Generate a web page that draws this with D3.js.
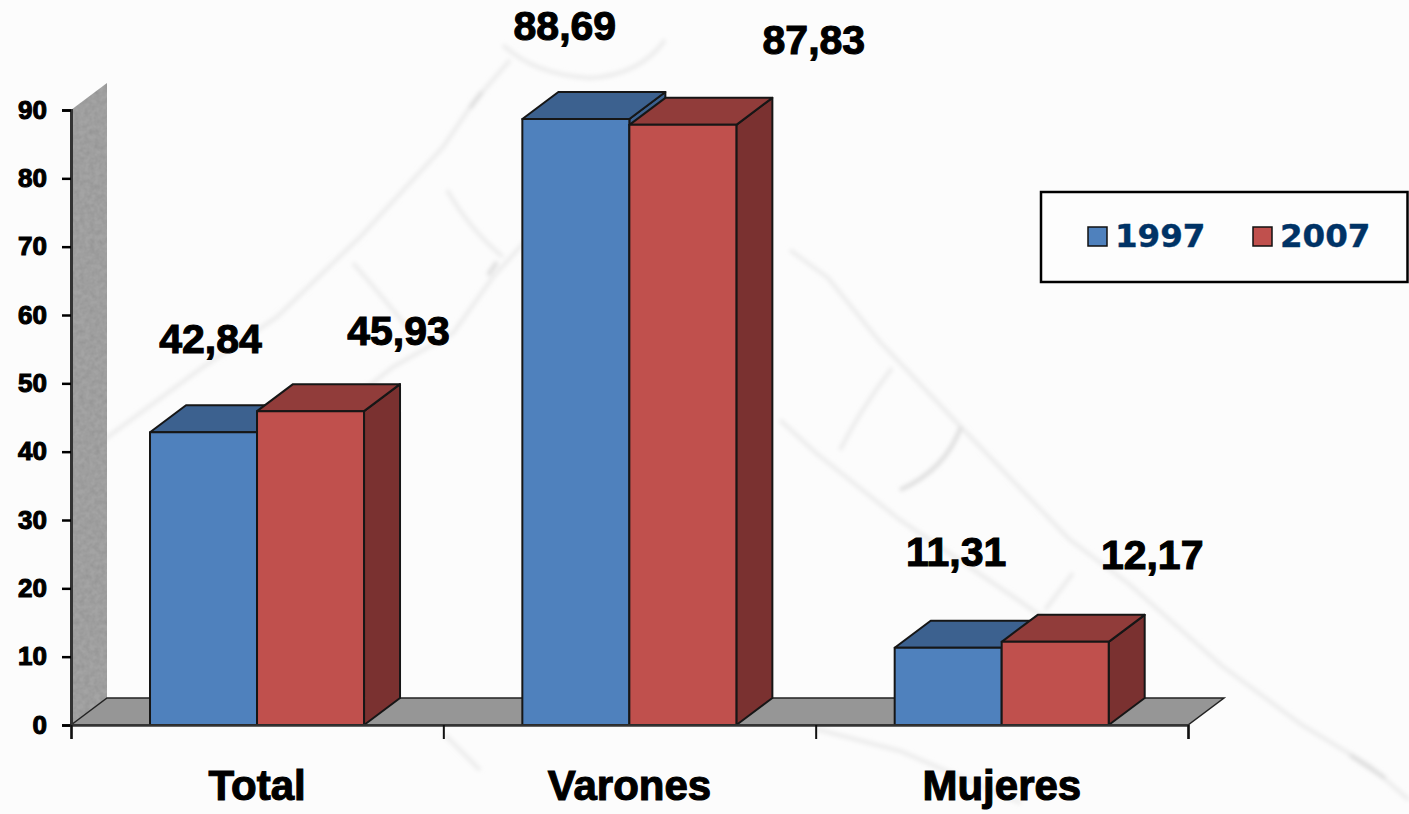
<!DOCTYPE html>
<html lang="es">
<head>
<meta charset="UTF-8" />
<title>Total, Varones, Mujeres 1997 - 2007</title>
<script src="https://d3js.org/d3.v7.min.js"></script>
<style>
  html, body { margin: 0; padding: 0; background: #fcfcfc; overflow: hidden; }
  svg { display: block; }
  text { font-family: "Liberation Sans", Arial, sans-serif; font-weight: bold; fill: #000; stroke: #000; stroke-width: 1.1px; }
  .legend-label { font-family: "DejaVu Sans", Verdana, sans-serif; fill: #003366; stroke: #003366; stroke-width: 0.4px; }
  .mark { stroke: #161616; stroke-width: 2; stroke-linejoin: round; }
</style>
</head>
<body>
<script>
var categories = ["Total", "Varones", "Mujeres"];
var years = ["1997", "2007"];
var values1997 = [42.84, 88.69, 11.31];
var values2007 = [45.93, 87.83, 12.17];
var yTicks = [0, 10, 20, 30, 40, 50, 60, 70, 80, 90];

var width = 1409, height = 814;
var plotLeft = 71, plotRight = 1188, plotBottom = 725, plotTop = 110;
var depthX = 36, depthY = -27;

// the labels were placed by hand in the original, so offsets from each bar centre
var labelOffsets = {
  "1997": [[7, -79], [-11, -79], [8, -82]],
  "2007": [[88, -66], [131, -71], [97, -73]]
};

var colors = {
  "1997": { front: "#4f81bd", top: "#3c618f", side: "#3c618f" },
  "2007": { front: "#c0504d", top: "#913c3a", side: "#7a3130" }
};

var x = d3.scaleBand().domain(categories).range([plotLeft, plotRight]);
var xInner = d3.scaleBand().domain(years).range([x.bandwidth() * 0.2122, x.bandwidth() * 0.787]);
var y = d3.scaleLinear().domain([0, 90]).range([plotBottom, plotTop]);
var xEdges = d3.scaleLinear().domain([0, 3]).range([plotLeft, plotRight]);

var svg = d3.select("body").append("svg").attr("width", width).attr("height", height);

var defs = svg.append("defs");
defs.append("filter").attr("id", "soft").attr("x", "-10%").attr("y", "-10%").attr("width", "120%").attr("height", "120%")
  .append("feGaussianBlur").attr("stdDeviation", 2);
var grain = defs.append("filter").attr("id", "grain").attr("x", "0").attr("y", "0").attr("width", "100%").attr("height", "100%");
grain.append("feTurbulence").attr("type", "fractalNoise").attr("baseFrequency", 0.2).attr("numOctaves", 2).attr("seed", 4).attr("result", "n");
grain.append("feColorMatrix").attr("in", "n").attr("type", "matrix")
  .attr("values", "0 0 0 0 0  0 0 0 0 0  0 0 0 0 0  0.3 0 0 0 -0.08").attr("result", "g");
grain.append("feComposite").attr("in", "g").attr("in2", "SourceAlpha").attr("operator", "in").attr("result", "c");
var gm = grain.append("feMerge");
gm.append("feMergeNode").attr("in", "SourceGraphic");
gm.append("feMergeNode").attr("in", "c");

svg.append("rect").attr("width", width).attr("height", height).attr("fill", "#fcfcfc");

// faint photo behind the chart
var photoLines = [
  "M90,450 L203,367 L277,317 L360,237 L443,147 L473,103 L510,60",
  "M300,440 L393,367 L453,333 L493,277 L540,225",
  "M447,190 Q470,230 503,257",
  "M353,263 Q385,300 407,327",
  "M503,45 Q535,75 590,78 Q640,75 665,40",
  "M790,250 L828,278 L880,342 L961,427 L1069,539 L1129,584 L1222,666 L1302,725 L1370,766 L1409,800",
  "M780,420 L816,453 L900,520 L1021,602 L1141,688",
  "M892,368 Q860,410 840,450",
  "M1073,573 L1045,610",
  "M816,729 L900,751 L1021,803",
  "M445,735 L480,770"
];
var photoSpots = [
  "M470,108 L482,92",
  "M961,427 Q945,470 900,490",
  "M488,275 L497,262",
  "M1350,755 L1385,778"
];
var photo = svg.append("g").attr("filter", "url(#soft)").attr("fill", "none");
photo.selectAll("path.line").data(photoLines).enter().append("path").attr("class", "line")
  .attr("stroke", "#ebebeb").attr("stroke-width", 4).attr("d", function (d) { return d; });
photo.selectAll("path.spot").data(photoSpots).enter().append("path").attr("class", "spot")
  .attr("stroke", "#dcdcdc").attr("stroke-width", 4).attr("d", function (d) { return d; });

// wall and floor
var wallPts = [[plotLeft, y(90)], [plotLeft + depthX, y(90) + depthY], [plotLeft + depthX, plotBottom + depthY], [plotLeft, plotBottom]];
svg.append("path").attr("d", d3.line()(wallPts) + "Z").attr("fill", "#a4a4a4").attr("filter", "url(#grain)");
var floorPts = [[plotLeft, plotBottom], [plotLeft + depthX, plotBottom + depthY], [plotRight + depthX, plotBottom + depthY], [plotRight, plotBottom]];
svg.append("path").attr("d", d3.line()(floorPts) + "Z").attr("fill", "#969696").attr("stroke", "#222").attr("stroke-width", 1.5);

// bars, 1997 first so the 2007 box sits on top of it
var rows = [];
years.forEach(function (yr, i) {
  var vals = i === 0 ? values1997 : values2007;
  categories.forEach(function (c, j) {
    rows.push({ year: yr, category: c, value: vals[j], index: j });
  });
});

var bars = svg.append("g").selectAll("g").data(rows).enter().append("g")
  .attr("transform", function (d) {
    return "translate(" + (x(d.category) + xInner(d.year)) + "," + y(d.value) + ")";
  });

bars.append("path").attr("class", "mark")
  .attr("fill", function (d) { return colors[d.year].side; })
  .attr("d", function (d) {
    var w = xInner.bandwidth(), h = plotBottom - y(d.value);
    return "M" + w + ",0 l" + depthX + "," + depthY + " v" + h + " l" + (-depthX) + "," + (-depthY) + "Z";
  });
bars.append("path").attr("class", "mark")
  .attr("fill", function (d) { return colors[d.year].top; })
  .attr("d", function () {
    var w = xInner.bandwidth();
    return "M0,0 l" + depthX + "," + depthY + " h" + w + " l" + (-depthX) + "," + (-depthY) + "Z";
  });
bars.append("rect").attr("class", "mark")
  .attr("width", xInner.bandwidth())
  .attr("height", function (d) { return plotBottom - y(d.value); })
  .attr("fill", function (d) { return colors[d.year].front; });

// axes
var yAxis = d3.axisLeft(y).tickValues(yTicks).tickSize(9).tickPadding(15);
var yG = svg.append("g").attr("transform", "translate(" + plotLeft + ",0)").call(yAxis);
yG.selectAll("path").attr("stroke", "#333").attr("stroke-width", 3);
yG.selectAll("line").attr("stroke", "#000").attr("stroke-width", 2.5);
yG.selectAll("text").style("font-size", "26px").attr("fill", "#000");

var edgeAxis = d3.axisBottom(xEdges).tickValues([0, 1, 2, 3]).tickSize(14).tickFormat("");
var edgeG = svg.append("g").attr("transform", "translate(0," + plotBottom + ")").call(edgeAxis);
edgeG.selectAll("path").attr("stroke", "#333").attr("stroke-width", 2.5);
edgeG.selectAll("line").attr("stroke", "#111").attr("stroke-width", 2);

var catAxis = d3.axisBottom(x).tickSize(0).tickPadding(45);
var catG = svg.append("g").attr("transform", "translate(0," + plotBottom + ")").call(catAxis);
catG.select("path").remove();
catG.selectAll("text").style("font-size", "42px").attr("fill", "#000");

// value labels
svg.append("g").selectAll("text").data(rows).enter().append("text")
  .attr("text-anchor", "middle")
  .style("font-size", "41px")
  .attr("x", function (d) {
    return x(d.category) + xInner(d.year) + xInner.bandwidth() / 2 + labelOffsets[d.year][d.index][0];
  })
  .attr("y", function (d) { return y(d.value) + labelOffsets[d.year][d.index][1]; })
  .text(function (d) { return d3.format(".2f")(d.value).replace(".", ","); });

// legend
var legend = svg.append("g");
legend.append("rect").attr("x", 1041).attr("y", 192).attr("width", 366.5).attr("height", 90)
  .attr("fill", "#fdfdfd").attr("stroke", "#000").attr("stroke-width", 2.5);
var legendX = d3.scaleOrdinal().domain(years).range([1088, 1253]);
var items = legend.selectAll("g").data(years).enter().append("g")
  .attr("transform", function (d) { return "translate(" + legendX(d) + ",227)"; });
items.append("rect").attr("width", 19).attr("height", 19)
  .attr("fill", function (d) { return colors[d].front; }).attr("stroke", "#111").attr("stroke-width", 1.5);
items.append("text").attr("class", "legend-label").attr("x", 27).attr("y", 20)
  .style("font-size", "32.5px").text(function (d) { return d; });
</script>
</body>
</html>
